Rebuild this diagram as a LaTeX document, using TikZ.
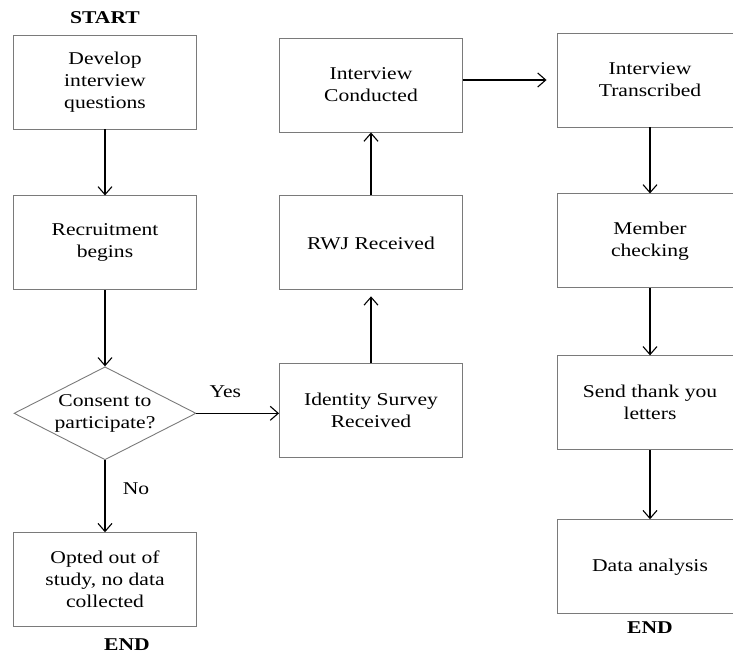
\documentclass[tikz,border=0pt]{standalone}
\usepackage{fontspec}
\setmainfont{Liberation Serif}[FakeStretch=1.2]
\usepackage{tikz}
\usetikzlibrary{arrows.meta,positioning,shapes.geometric}
\definecolor{boxgray}{HTML}{7A7A7A}

\begin{document}
\begin{tikzpicture}[x=1pt,y=-1pt,
    font=\fontsize{18}{22}\selectfont,
    stepbox/.style={draw=boxgray,line width=0.9pt,align=center,
      minimum width=183pt,minimum height=94pt,inner sep=3pt},
    flow/.style={line width=1.1pt,-{Straight Barb[length=8pt,width=14pt]}},
    tag/.style={font=\fontsize{18}{22}\selectfont\bfseries}]
  \useasboundingbox (0,0) rectangle (733,656);

  % left column
  \node[tag] (start) at (105,18) {START};
  \node[stepbox] (develop) at (105,82) {Develop\\interview\\questions};
  \node[stepbox,below=66pt of develop] (recruit) {Recruitment\\begins};
  \node[diamond,draw=boxgray,line width=0.9pt,inner sep=0pt,
    minimum width=182pt,minimum height=93pt,below=76pt of recruit] (consent) {};
  \node[align=center] at (consent) {Consent to\\participate?};
  \node[stepbox,below=72pt of consent] (optout) {Opted out of\\study, no data\\collected};
  \node[tag] (end1) at (127,645) {END};

  % middle column
  \node[stepbox] (conducted) at (371,85) {Interview\\Conducted};
  \node[stepbox,below=63pt of conducted] (rwj) {RWJ Received};
  \node[stepbox,below=73pt of rwj] (survey) {Identity Survey\\Received};

  % right column
  \node[stepbox,minimum width=186pt] (transcribed) at (650,80) {Interview\\Transcribed};
  \node[stepbox,minimum width=186pt,below=66pt of transcribed] (member) {Member\\checking};
  \node[stepbox,minimum width=186pt,below=67pt of member] (thanks) {Send thank you\\letters};
  \node[stepbox,minimum width=186pt,below=69pt of thanks] (analysis) {Data analysis};
  \node[tag] (end2) at (650,628) {END};

  % connectors
  \draw[flow] (develop) -- (recruit);
  \draw[flow] (recruit) -- (consent);
  \draw[flow] (consent) -- node[right=14pt,pos=0.4] {No} (optout);
  \draw[flow] (consent.east) -- node[above=12pt,pos=0.35] {Yes} (consent.east -| survey.west);
  \draw[flow,shorten >=6pt] (survey) -- (rwj);
  \draw[flow] (rwj) -- (conducted);
  \draw[flow,shorten >=10pt] (conducted.east |- transcribed.west) -- (transcribed.west);
  \draw[flow] (transcribed) -- (member);
  \draw[flow] (member) -- (thanks);
  \draw[flow] (thanks) -- (analysis);
\end{tikzpicture}
\end{document}
